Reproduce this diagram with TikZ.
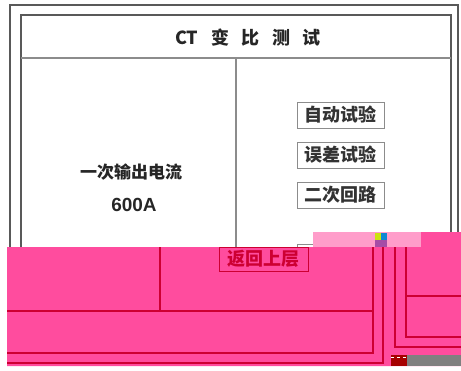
\documentclass[tikz,border=0pt]{standalone}
\usepackage{fontspec}
\setmainfont{Liberation Sans}
\newfontfamily\cjk{Noto Sans CJK SC}
\usepackage{tikz}
\usetikzlibrary{positioning}
\definecolor{glitchpink}{RGB}{255,76,158}
\definecolor{glitchred}{RGB}{205,0,50}

\begin{document}
\begin{tikzpicture}[x=1pt,y=-1pt,
    frame/.style={draw=black!65,line width=1.4pt},
    panelline/.style={draw=black!45,line width=1.2pt},
    menubtn/.style={draw=black!45,line width=1pt,minimum width=87pt,minimum height=26pt,
      inner sep=0pt,text=black!80,font=\cjk\bfseries\fontsize{18}{18}\selectfont},
    redline/.style={draw=glitchred,line width=1.2pt}]
    \useasboundingbox (0,0) rectangle (461,370);
    % screen frame
    \draw[frame] (10,247) -- (10,5) -- (458,5) -- (458,247)
    (21,247) -- (21,15) -- (451,15) -- (451,247);
    \draw[panelline] (21,58) -- (451,58) (236,58) -- (236,247);
    \node[text=black!85,font=\cjk\bfseries\fontsize{18}{18}\selectfont] (title) at (248,38)
    {CT\hspace{0.7em}变\hspace{0.7em}比\hspace{0.7em}测\hspace{0.7em}试};
    \node[text=black!85,font=\cjk\bfseries\fontsize{17}{17}\selectfont] (current) at (131,172) {一次输出电流};
    \node[text=black!85,font=\bfseries\fontsize{19}{19}\selectfont] (value) at (134,205) {600A};
    \node[menubtn] (auto) at (340.5,115) {自动试验};
    \node[menubtn,below=13pt of auto] (error) {误差试验};
    \node[menubtn,below=13pt of error] (loop) {二次回路};
    \draw[panelline,line width=1pt] (297,247) -- (297,244) -- (313,244);
    % damaged lower part
    \fill[glitchpink] (7,247) rectangle (461,366) (421,232) rectangle (461,247);
    \fill[glitchpink!55] (313,232) rectangle (421,247);
    \fill[yellow!80!green] (375,233) rectangle (381,240);
    \fill[cyan!70!blue] (381,233) rectangle (387,240);
    \fill[violet!70] (375,240) rectangle (387,247);
    \draw[redline] (7,311) -- (373,311) (160,247) -- (160,311)
    (373,247) -- (373,353) -- (7,353) (7,363) -- (383,363) -- (383,247)
    (395,247) -- (395,347) -- (461,347) (406,247) -- (406,337) -- (461,337)
    (406,296) -- (461,296);
    \node[draw=glitchred,line width=1pt,minimum width=89pt,minimum height=24pt,inner sep=0pt,
      text=glitchred,font=\cjk\bfseries\fontsize{18}{18}\selectfont] (back) at (263.5,259) {返回上层};
    \fill[black!50] (407,355) rectangle (461,366);
    \fill[red!65!black] (391,355) rectangle (407,366);
    \draw[white,dashed,line width=0.6pt] (391,357) -- (407,357);
\end{tikzpicture}
\end{document}
